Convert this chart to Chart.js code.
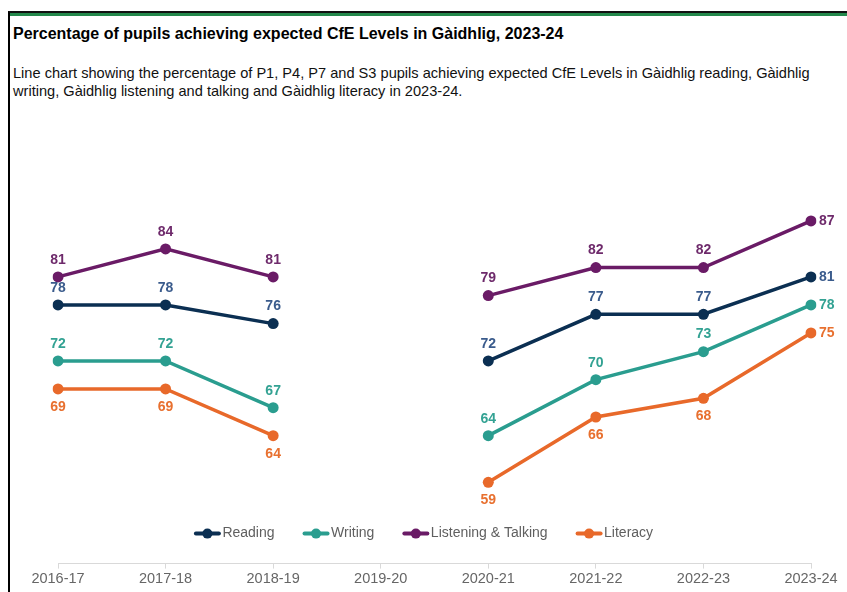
<!DOCTYPE html>
<html>
<head>
<meta charset="utf-8">
<title>CfE Levels in Gàidhlig</title>
<script src="https://cdn.jsdelivr.net/npm/chart.js@4.4.1/dist/chart.umd.min.js"></script>
<style>
  html, body { margin: 0; padding: 0; background: #fff; overflow: hidden; }
  body { width: 847px; height: 592px; position: relative; font-family: "Liberation Sans", Arial, sans-serif; }
  .panel { position: absolute; left: 8px; top: 11px; width: 900px; height: 600px;
           border-left: 2px solid #000; border-top: 2px solid #111; }
  .panel::before { content: ''; position: absolute; left: 0; right: 0; top: 0; height: 3px; background: #23884b; }
  h1 { position: absolute; left: 13px; top: 25px; margin: 0; font-size: 16px; line-height: 18px;
       font-weight: bold; color: #000; white-space: nowrap; }
  .desc { position: absolute; left: 13px; top: 64px; margin: 0; font-size: 14.6px; line-height: 18px;
          color: #111; white-space: nowrap; }
  .chart-wrap { position: absolute; left: 0; top: 94px; width: 847px; height: 496px; }
</style>
</head>
<body>
<div class="panel"></div>
<h1>Percentage of pupils achieving expected CfE Levels in Gàidhlig, 2023-24</h1>
<p class="desc">Line chart showing the percentage of P1, P4, P7 and S3 pupils achieving expected CfE Levels in Gàidhlig reading, Gàidhlig<br>writing, Gàidhlig listening and talking and Gàidhlig literacy in 2023-24.</p>
<div class="chart-wrap"><canvas id="cfe-chart"></canvas></div>

<script>
// school years (no data collected in 2019-20)
const years = ['2016-17', '2017-18', '2018-19', '2019-20', '2020-21', '2021-22', '2022-23', '2023-24'];

// % of pupils achieving expected levels
const reading = [78, 78, 76, null, 72, 77, 77, 81];
const writing = [72, 72, 67, null, 64, 70, 73, 78];
const listeningTalking = [81, 84, 81, null, 79, 82, 82, 87];
const literacy = [69, 69, 64, null, 59, 66, 68, 75];

const FONT = '"Liberation Sans", Arial, sans-serif';

function series(label, data, color, labelColor, labelBelow) {
  return {
    label,
    data,
    borderColor: color,
    backgroundColor: color,
    pointBackgroundColor: color,
    pointBorderColor: color,
    borderWidth: 3.5,
    pointRadius: 5.5,
    pointHoverRadius: 5.5,
    pointBorderWidth: 0,
    tension: 0,
    labelColor,
    labelBelow
  };
}

// value labels above/below each point, last year's to the right
const valueLabels = {
  id: 'valueLabels',
  afterDatasetsDraw(chart) {
    const ctx = chart.ctx;
    ctx.save();
    ctx.font = 'bold 14px ' + FONT;
    chart.data.datasets.forEach((ds, i) => {
      const meta = chart.getDatasetMeta(i);
      const last = ds.data.length - 1;
      meta.data.forEach((pt, j) => {
        const v = ds.data[j];
        if (v == null) return;
        ctx.fillStyle = ds.labelColor;
        ctx.textBaseline = 'middle';
        if (j === last) {
          ctx.textAlign = 'left';
          ctx.fillText(v, pt.x + 8, pt.y);
        } else {
          ctx.textAlign = 'center';
          ctx.fillText(v, pt.x, ds.labelBelow ? pt.y + 18 : pt.y - 17);
        }
      });
    });
    ctx.restore();
  }
};

// legend row sitting between the lines and the x axis
const lineLegend = {
  id: 'lineLegend',
  afterDraw(chart) {
    const ctx = chart.ctx;
    const markerW = 27, textGap = 1.5, itemGap = 28;
    ctx.save();
    ctx.font = '14px ' + FONT;
    const items = chart.data.datasets.map(ds => ({
      text: ds.label, color: ds.borderColor, w: ctx.measureText(ds.label).width
    }));
    let total = items.reduce((s, it) => s + markerW + textGap + it.w, 0) + itemGap * (items.length - 1);
    let x = chart.width / 2 - total / 2;
    const y = chart.scales.x.top - 30;
    items.forEach(it => {
      ctx.strokeStyle = it.color;
      ctx.fillStyle = it.color;
      ctx.lineWidth = 4;
      ctx.lineCap = 'round';
      ctx.beginPath();
      ctx.moveTo(x + 2, y);
      ctx.lineTo(x + markerW - 2, y);
      ctx.stroke();
      ctx.beginPath();
      ctx.arc(x + markerW / 2, y, 5, 0, Math.PI * 2);
      ctx.fill();
      ctx.fillStyle = '#5f5f5f';
      ctx.textAlign = 'left';
      ctx.textBaseline = 'middle';
      ctx.fillText(it.text, x + markerW + textGap, y);
      x += markerW + textGap + it.w + itemGap;
    });
    ctx.restore();
  }
};

new Chart(document.getElementById('cfe-chart'), {
  type: 'line',
  data: {
    labels: years,
    datasets: [
      series('Reading', reading, '#0b2f52', '#3a5b8c', false),
      series('Writing', writing, '#2a9d8f', '#33a293', false),
      series('Listening & Talking', listeningTalking, '#6a1b66', '#6e2a6b', false),
      series('Literacy', literacy, '#e8692a', '#e8702f', true)
    ]
  },
  options: {
    responsive: true,
    maintainAspectRatio: false,
    animation: false,
    layout: { padding: { left: 58, right: 36, top: 0, bottom: 0 } },
    plugins: {
      legend: { display: false },
      tooltip: { enabled: false }
    },
    scales: {
      x: {
        grid: { drawOnChartArea: false, drawTicks: true, tickLength: 5, color: '#d9d9d9' },
        border: { display: true, color: '#d9d9d9', width: 1 },
        ticks: { color: '#666', padding: 2, font: { family: FONT, size: 14.5 }, maxRotation: 0, autoSkip: false }
      },
      y: {
        display: false,
        min: 50.3,
        max: 100
      }
    }
  },
  plugins: [valueLabels, lineLegend]
});
</script>
</body>
</html>
